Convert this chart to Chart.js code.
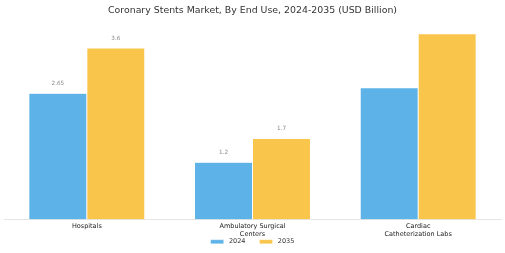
<!DOCTYPE html>
<html>
<head>
<meta charset="utf-8">
<script src="https://cdn.jsdelivr.net/npm/chart.js@4.4.1/dist/chart.umd.min.js"></script>
<style>
html,body{margin:0;padding:0;background:#fff;}
#wrap{width:505px;height:253px;}
</style>
</head>
<body>
<div id="wrap"><canvas id="c" width="505" height="253"></canvas></div>
<script>
const categories = [['Hospitals'], ['Ambulatory Surgical', 'Centers'], ['Cardiac', 'Catheterization Labs']];
const values2024 = [2.65, 1.2, 2.77];
const values2035 = [3.6, 1.7, 3.9];
const showLabels = [true, true, false];
const seriesNames = ['2024', '2035'];

const FONT = "'DejaVu Sans', sans-serif";

const valueLabels = {
  id: 'valueLabels',
  afterDatasetsDraw(chart) {
    const ctx = chart.ctx;
    ctx.save();
    ctx.font = '5.7px ' + FONT;
    ctx.fillStyle = '#888888';
    ctx.textAlign = 'center';
    ctx.textBaseline = 'middle';
    chart.data.datasets.forEach((ds, di) => {
      const meta = chart.getDatasetMeta(di);
      meta.data.forEach((bar, i) => {
        if (!showLabels[i]) return;
        ctx.fillText(String(ds.data[i]), bar.x, bar.y - 10);
      });
    });
    ctx.restore();
  }
};

new Chart(document.getElementById('c'), {
  type: 'bar',
  data: {
    labels: categories,
    datasets: [
      { label: seriesNames[0], data: values2024, backgroundColor: '#5DB3E7', borderColor: 'rgba(255,255,255,0.6)', borderWidth: 0.5 },
      { label: seriesNames[1], data: values2035, backgroundColor: '#F9C54B', borderColor: 'rgba(255,255,255,0.6)', borderWidth: 0.5 }
    ]
  },
  options: {
    responsive: false,
    animation: false,
    devicePixelRatio: 1,
    layout: { padding: { left: 4, right: 4, top: 0, bottom: -2 } },
    categoryPercentage: 0.7,
    barPercentage: 1.0,
    plugins: {
      title: {
        display: true,
        text: 'Coronary Stents Market, By End Use, 2024-2035 (USD Billion)',
        color: '#333333',
        font: { family: FONT, size: 9.4, weight: 'normal' },
        padding: { top: 5, bottom: 12.8 }
      },
      legend: {
        position: 'bottom',
        labels: {
          color: '#333333',
          font: { family: FONT, size: 6.5 },
          boxWidth: 13,
          boxHeight: 4,
          padding: 14,
          generateLabels(chart) {
            const items = Chart.defaults.plugins.legend.labels.generateLabels(chart);
            items.forEach(it => { it.text = ' ' + it.text; });
            return items;
          }
        }
      },
      tooltip: { enabled: false }
    },
    scales: {
      x: {
        grid: { display: false, drawTicks: false },
        border: { display: true, color: '#e6e6e6', width: 1 },
        ticks: { color: '#222222', font: { family: FONT, size: 6.5 }, padding: 3, maxRotation: 0, autoSkip: false },
        afterFit(axis) {
          axis.height = 5;
          axis._computeLabelArea = function () { return undefined; };
        }
      },
      y: {
        display: false,
        min: 0,
        max: 4.0
      }
    }
  },
  plugins: [valueLabels]
});
</script>
</body>
</html>
